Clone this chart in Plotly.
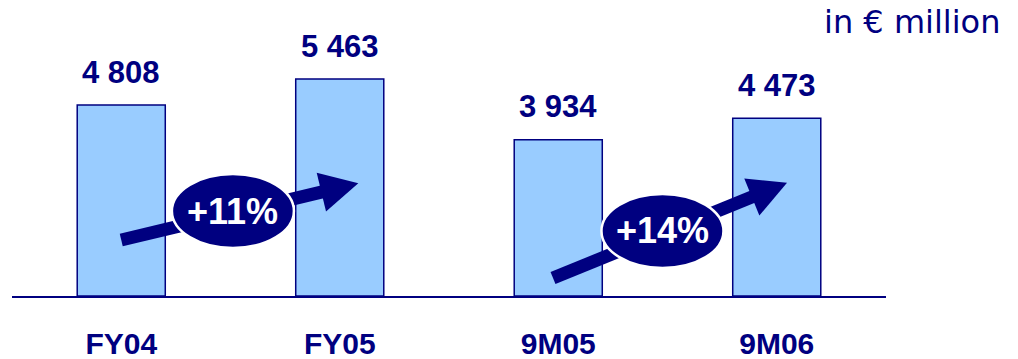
import math
import plotly.graph_objects as go

# ---- data ----
categories = ["FY04", "FY05", "9M05", "9M06"]
values = [4808, 5463, 3934, 4473]
value_labels = ["4 808", "5 463", "3 934", "4 473"]
growth_labels = ["+11%", "+14%"]
unit_label = "in € million"

# ---- layout constants ----
W, H = 1018, 359
ML, MR, MT, MB = 12, 132, 20, 63
XR = (-0.5, 3.5)
YR = (0, 6950)
PX = (W - ML - MR) / (XR[1] - XR[0])   # px per x unit
PY = (H - MT - MB) / (YR[1] - YR[0])   # px per y unit

NAVY = "#000080"
BAR_FILL = "#99CCFF"

xs = list(range(len(categories)))

fig = go.Figure()
fig.add_trace(go.Bar(
    x=xs, y=values, width=0.403,
    marker=dict(color=BAR_FILL, line=dict(color=NAVY, width=1.5)),
    hoverinfo="skip", showlegend=False,
))

# value labels
for x, v, t in zip(xs, values, value_labels):
    fig.add_annotation(x=x, y=v, xref="x", yref="y", text=f"<b>{t}</b>",
                       showarrow=False, yanchor="bottom", xanchor="center",
                       yshift=13.5,
                       font=dict(family="Liberation Sans, Arial", size=31, color=NAVY))

# growth arrows (decoration, in data coordinates)
arrows = [
    dict(tail=(0.0, 1410), tip=(1.085, 2838), center=(0.511, 2140)),
    dict(tail=(1.976, 453), tip=(3.047, 2853), center=(2.477, 1637)),
]
HEAD_L, HEAD_W, SHAFT_W = 38, 40, 13
ELL_RX, ELL_RY = 61, 37

def to_px(p):
    return ((p[0] - XR[0]) * PX, -(p[1] - YR[0]) * PY)

def to_data(q):
    return (q[0] / PX + XR[0], -q[1] / PY + YR[0])

shapes = []
for a, lab in zip(arrows, growth_labels):
    s = to_px(a["tail"]); t = to_px(a["tip"])
    dx, dy = t[0] - s[0], t[1] - s[1]
    L = math.hypot(dx, dy)
    ux, uy = dx / L, dy / L
    nx, ny = -uy, ux
    b = (t[0] - ux * HEAD_L, t[1] - uy * HEAD_L)
    c1 = (b[0] + nx * HEAD_W / 2, b[1] + ny * HEAD_W / 2)
    c2 = (b[0] - nx * HEAD_W / 2, b[1] - ny * HEAD_W / 2)
    bi = (b[0] + ux * 2, b[1] + uy * 2)
    sd, bd = to_data(s), to_data(bi)
    shapes.append(dict(type="line", xref="x", yref="y", layer="above",
                       x0=sd[0], y0=sd[1], x1=bd[0], y1=bd[1],
                       line=dict(color=NAVY, width=SHAFT_W)))
    td, c1d, c2d = to_data(t), to_data(c1), to_data(c2)
    path = f"M{td[0]},{td[1]} L{c1d[0]},{c1d[1]} L{c2d[0]},{c2d[1]} Z"
    shapes.append(dict(type="path", xref="x", yref="y", layer="above", path=path,
                       fillcolor=NAVY, line=dict(color=NAVY, width=0)))
    cx, cy = a["center"]
    shapes.append(dict(type="circle", xref="x", yref="y", layer="above",
                       x0=cx - ELL_RX / PX, x1=cx + ELL_RX / PX,
                       y0=cy - ELL_RY / PY, y1=cy + ELL_RY / PY,
                       fillcolor=NAVY, line=dict(color="white", width=2.5)))
    fig.add_annotation(x=cx, y=cy, xref="x", yref="y", text=f"<b>{lab}</b>",
                       showarrow=False, xanchor="center", yanchor="middle",
                       font=dict(family="Liberation Sans, Arial", size=36, color="white"))

fig.add_annotation(x=(1002 - ML) / (W - ML - MR), y=1, xref="paper", yref="paper",
                   text=unit_label, showarrow=False, xanchor="right", yanchor="top",
                   yshift=19,
                   font=dict(family="DejaVu Sans", size=32, color=NAVY))

fig.update_layout(
    width=W, height=H,
    margin=dict(l=ML, r=MR, t=MT, b=MB, autoexpand=False),
    paper_bgcolor="white", plot_bgcolor="white",
    shapes=shapes,
    xaxis=dict(range=list(XR), tickvals=xs, ticktext=[f"<b>{c}</b>" for c in categories],
               showgrid=False, zeroline=False, showline=True, linecolor=NAVY, linewidth=2,
               ticks="", ticklabelstandoff=20, automargin=False,
               tickfont=dict(family="Liberation Sans, Arial", size=30, color=NAVY),
               fixedrange=True),
    yaxis=dict(range=list(YR), visible=False, fixedrange=True, automargin=False),
    bargap=0.5,
)

fig.write_html("out.html", config={"displayModeBar": False, "staticPlot": True},
               post_script="document.body.style.margin='0';document.body.style.overflow='hidden';")
